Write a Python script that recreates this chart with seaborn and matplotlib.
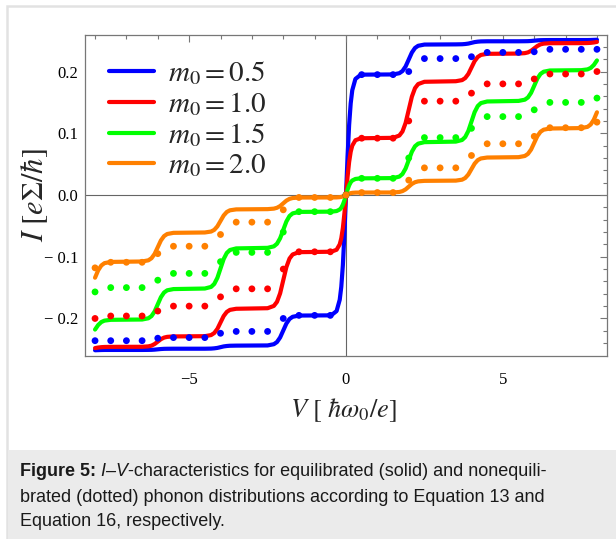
import numpy as np
import pandas as pd
import matplotlib
matplotlib.use("Agg")
import matplotlib.pyplot as plt
import seaborn as sns
from matplotlib.patches import Rectangle
from matplotlib.lines import Line2D
from matplotlib.transforms import IdentityTransform

sns.set_theme(style="white")
plt.rcParams['font.family'] = ['Liberation Serif', 'DejaVu Serif']
plt.rcParams['mathtext.fontset'] = 'stix'

# ---------------- data ----------------
m0_labels = ["0.5", "1.0", "1.5", "2.0"]
colors = ["#0000ff", "#ff0000", "#00ff00", "#ff8000"]

V_solid = [-8.0, -7.9, -7.8, -7.7, -7.5,
           -6.5, -6.3, -6.2, -6.1, -6.0, -5.9, -5.8, -5.7, -5.5,
           -4.5, -4.3, -4.2, -4.1, -4.0, -3.9, -3.8, -3.7, -3.5,
           -2.5, -2.3, -2.2, -2.1, -2.0, -1.9, -1.8, -1.7, -1.5,
           -0.6, -0.45, -0.3, -0.2, -0.15, -0.1, -0.05,
           0.0,
           0.05, 0.1, 0.15, 0.2, 0.3, 0.45, 0.6,
           1.5, 1.7, 1.8, 1.9, 2.0, 2.1, 2.2, 2.3, 2.5,
           3.5, 3.7, 3.8, 3.9, 4.0, 4.1, 4.2, 4.3, 4.5,
           5.5, 5.7, 5.8, 5.9, 6.0, 6.1, 6.2, 6.3, 6.5,
           7.5, 7.7, 7.8, 7.9, 8.0]

I_solid_05 = [-0.2515, -0.2513, -0.2511, -0.2510, -0.2510,
              -0.2510, -0.2509, -0.2508, -0.2505, -0.2500, -0.2495, -0.2492, -0.2491, -0.2490,
              -0.2490, -0.2488, -0.2484, -0.2477, -0.2465, -0.2453, -0.2446, -0.2442, -0.2440,
              -0.2437, -0.2417, -0.2382, -0.2308, -0.2195, -0.2082, -0.2008, -0.1973, -0.1953,
              -0.1950, -0.1940, -0.1880, -0.1697, -0.1486, -0.1137, -0.0626,
              0.0,
              0.0626, 0.1137, 0.1486, 0.1697, 0.1880, 0.1940, 0.1950,
              0.1953, 0.1973, 0.2008, 0.2082, 0.2195, 0.2308, 0.2382, 0.2417, 0.2437,
              0.2440, 0.2442, 0.2446, 0.2453, 0.2465, 0.2477, 0.2484, 0.2488, 0.2490,
              0.2490, 0.2491, 0.2492, 0.2495, 0.2500, 0.2505, 0.2508, 0.2509, 0.2510,
              0.2510, 0.2510, 0.2511, 0.2513, 0.2515]

I_solid_10 = [-0.2480, -0.2471, -0.2465, -0.2462, -0.2460,
              -0.2459, -0.2452, -0.2440, -0.2414, -0.2375, -0.2336, -0.2310, -0.2298, -0.2291,
              -0.2287, -0.2269, -0.2236, -0.2169, -0.2065, -0.1961, -0.1894, -0.1861, -0.1843,
              -0.1834, -0.1797, -0.1731, -0.1593, -0.1380, -0.1167, -0.1029, -0.0963, -0.0926,
              -0.0920, -0.0915, -0.0887, -0.0800, -0.0701, -0.0536, -0.0295,
              0.0,
              0.0295, 0.0536, 0.0701, 0.0800, 0.0887, 0.0915, 0.0920,
              0.0926, 0.0963, 0.1029, 0.1167, 0.1380, 0.1593, 0.1731, 0.1797, 0.1834,
              0.1843, 0.1861, 0.1894, 0.1961, 0.2065, 0.2169, 0.2236, 0.2269, 0.2287,
              0.2291, 0.2298, 0.2310, 0.2336, 0.2375, 0.2414, 0.2440, 0.2452, 0.2459,
              0.2460, 0.2462, 0.2465, 0.2471, 0.2480]

I_solid_15 = [-0.2180, -0.2106, -0.2058, -0.2035, -0.2022,
              -0.2017, -0.1997, -0.1961, -0.1886, -0.1770, -0.1655, -0.1580, -0.1544, -0.1524,
              -0.1515, -0.1489, -0.1441, -0.1342, -0.1190, -0.1038, -0.0939, -0.0891, -0.0865,
              -0.0856, -0.0832, -0.0790, -0.0701, -0.0565, -0.0429, -0.0340, -0.0298, -0.0274,
              -0.0270, -0.0269, -0.0260, -0.0235, -0.0206, -0.0157, -0.0087,
              0.0,
              0.0087, 0.0157, 0.0206, 0.0235, 0.0260, 0.0269, 0.0270,
              0.0274, 0.0298, 0.0340, 0.0429, 0.0565, 0.0701, 0.0790, 0.0832, 0.0856,
              0.0865, 0.0891, 0.0939, 0.1038, 0.1190, 0.1342, 0.1441, 0.1489, 0.1515,
              0.1524, 0.1544, 0.1580, 0.1655, 0.1770, 0.1886, 0.1961, 0.1997, 0.2017,
              0.2022, 0.2035, 0.2058, 0.2106, 0.2180]

I_solid_20 = [-0.1340, -0.1220, -0.1142, -0.1104, -0.1084,
              -0.1077, -0.1058, -0.1024, -0.0954, -0.0845, -0.0736, -0.0666, -0.0632, -0.0613,
              -0.0607, -0.0592, -0.0565, -0.0508, -0.0420, -0.0332, -0.0275, -0.0248, -0.0233,
              -0.0229, -0.0221, -0.0207, -0.0179, -0.0135, -0.0091, -0.0063, -0.0049, -0.0041,
              -0.0040, -0.0040, -0.0039, -0.0035, -0.0030, -0.0023, -0.0013,
              0.0,
              0.0013, 0.0023, 0.0030, 0.0035, 0.0039, 0.0040, 0.0040,
              0.0041, 0.0049, 0.0063, 0.0091, 0.0135, 0.0179, 0.0207, 0.0221, 0.0229,
              0.0233, 0.0248, 0.0275, 0.0332, 0.0420, 0.0508, 0.0565, 0.0592, 0.0607,
              0.0613, 0.0632, 0.0666, 0.0736, 0.0845, 0.0954, 0.1024, 0.1058, 0.1077,
              0.1084, 0.1104, 0.1142, 0.1220, 0.1340]

V_dots = [-8.0, -7.5, -7.0, -6.5, -6.0, -5.5, -5.0, -4.5, -4.0, -3.5, -3.0, -2.5,
          -2.0, -1.5, -1.0, -0.5, 0.0, 0.5, 1.0, 1.5, 2.0, 2.5, 3.0, 3.5, 4.0,
          4.5, 5.0, 5.5, 6.0, 6.5, 7.0, 7.5, 8.0]

I_dots_05 = [-0.236, -0.236, -0.236, -0.236, -0.232, -0.231, -0.231, -0.231, -0.224,
             -0.221, -0.221, -0.221, -0.200, -0.195, -0.195, -0.195, 0.0,
             0.195, 0.195, 0.195, 0.200, 0.221, 0.221, 0.221, 0.224,
             0.231, 0.231, 0.231, 0.232, 0.236, 0.236, 0.236, 0.236]
I_dots_10 = [-0.200, -0.196, -0.196, -0.196, -0.188, -0.180, -0.180, -0.180, -0.165,
             -0.152, -0.152, -0.152, -0.120, -0.092, -0.092, -0.092, 0.0,
             0.092, 0.092, 0.092, 0.120, 0.152, 0.152, 0.152, 0.165,
             0.180, 0.180, 0.180, 0.188, 0.196, 0.196, 0.196, 0.200]
I_dots_15 = [-0.157, -0.150, -0.150, -0.150, -0.138, -0.127, -0.127, -0.127, -0.108,
             -0.093, -0.093, -0.093, -0.060, -0.027, -0.027, -0.027, 0.0,
             0.027, 0.027, 0.027, 0.060, 0.093, 0.093, 0.093, 0.108,
             0.127, 0.127, 0.127, 0.138, 0.150, 0.150, 0.150, 0.157]
I_dots_20 = [-0.118, -0.109, -0.109, -0.109, -0.095, -0.083, -0.083, -0.083, -0.064,
             -0.044, -0.044, -0.044, -0.024, -0.004, -0.004, -0.004, 0.0,
             0.004, 0.004, 0.004, 0.024, 0.044, 0.044, 0.044, 0.064,
             0.083, 0.083, 0.083, 0.095, 0.109, 0.109, 0.109, 0.118]

x_major = [-5, 0, 5]
x_major_labels = ["\u22125", "0", "5"]
y_major = [-0.2, -0.1, 0.0, 0.1, 0.2]
y_major_labels = ["\u2212 0.2", "\u2212 0.1", "0.0", "0.1", "0.2"]

caption_lines = [
    [("Figure 5:", "bold", "normal"), (" I\u2013V", "normal", "italic"),
     ("-characteristics for equilibrated (solid) and nonequili-", "normal", "normal")],
    [("brated (dotted) phonon distributions according to Equation 13 and", "normal", "normal")],
    [("Equation 16, respectively.", "normal", "normal")],
]

# ---------------- frames ----------------
solid_sets = [I_solid_05, I_solid_10, I_solid_15, I_solid_20]
dot_sets = [I_dots_05, I_dots_10, I_dots_15, I_dots_20]
df_solid = pd.concat([pd.DataFrame({"V": V_solid, "I": vals, "m0": lab})
                      for vals, lab in zip(solid_sets, m0_labels)], ignore_index=True)
df_dots = pd.concat([pd.DataFrame({"V": V_dots, "I": vals, "m0": lab})
                     for vals, lab in zip(dot_sets, m0_labels)], ignore_index=True)
palette = dict(zip(m0_labels, colors))

W, H = 616, 539
fig = plt.figure(figsize=(W / 100, H / 100), dpi=100)
fig.patch.set_facecolor("white")

# outer frame and caption box
fig.patches.append(Rectangle((7 / W, 0), 1.2, 1 - 6 / H, transform=fig.transFigure,
                             facecolor="none", edgecolor="#e2e2e2", lw=1.8, zorder=0))
fig.patches.append(Rectangle((8 / W, 0), 1.0, (H - 450) / H, transform=fig.transFigure,
                             facecolor="#ebebeb", edgecolor="none", zorder=0))

ax = fig.add_axes([85 / W, 1 - 355.5 / H, 522 / W, 321 / H])
ax.set_facecolor("white")

ax.axhline(0, color="#666666", lw=0.8, zorder=0.5)
ax.axvline(0, color="#666666", lw=0.8, zorder=0.5)

sns.lineplot(data=df_solid, x="V", y="I", hue="m0", palette=palette, sort=False,
             estimator=None, lw=3.0, legend=False, ax=ax, zorder=2)
sns.scatterplot(data=df_dots, x="V", y="I", hue="m0", palette=palette, s=24,
                linewidth=0, legend=False, ax=ax, zorder=3)

ax.set_xlim(-8.32, 8.32)
ax.set_ylim(-0.26, 0.26)
ax.set_xlabel("")
ax.set_ylabel("")

ax.set_xticks(x_major)
ax.set_xticklabels(x_major_labels)
ax.set_xticks(np.arange(-8, 9, 1), minor=True)
ax.set_yticks(y_major)
ax.set_yticklabels(y_major_labels)
ax.set_yticks(np.arange(-0.24, 0.2401, 0.02), minor=True)
ax.tick_params(which="both", direction="in", top=True, right=True, color="#777777",
               width=0.8, labelcolor="black", labelsize=12)
ax.tick_params(which="major", length=5)
ax.tick_params(which="minor", length=3)
ax.tick_params(axis="x", which="major", pad=12)
ax.tick_params(axis="y", which="major", pad=5)
for sp in ax.spines.values():
    sp.set_color("#777777")
    sp.set_linewidth(0.9)

handles = [Line2D([], [], color=c, lw=3.0) for c in colors]
labels = [r"$m_0 = %s$" % m for m in m0_labels]
ax.legend(handles, labels, loc="upper left", bbox_to_anchor=((109 - 85) / 522, 0.922),
          frameon=False, fontsize=21, handlelength=1.55, handletextpad=0.48,
          labelspacing=0.105, borderpad=0, borderaxespad=0)

fig.text(35 / W, 1 - 195 / H, r"$I\ [e\Sigma/\hbar]$", rotation=90, ha="center",
         va="center", fontsize=22)
fig.text(343 / W, 1 - 410 / H, r"$V\ [\ \hbar\omega_0/e]$", ha="center", va="center",
         fontsize=19)

# caption
renderer = fig.canvas.get_renderer()
line_y = [472, 497, 521]
for segs, yy in zip(caption_lines, line_y):
    x = 20
    for s, wgt, sty in segs:
        t = fig.text(x, H - yy, s, transform=IdentityTransform(), ha="left", va="center",
                     fontsize=13, fontweight=wgt, fontstyle=sty, color="#1a1a1a",
                     family=["Liberation Sans", "DejaVu Sans"])
        x += t.get_window_extent(renderer).width

fig.savefig("out.png", dpi=100)
